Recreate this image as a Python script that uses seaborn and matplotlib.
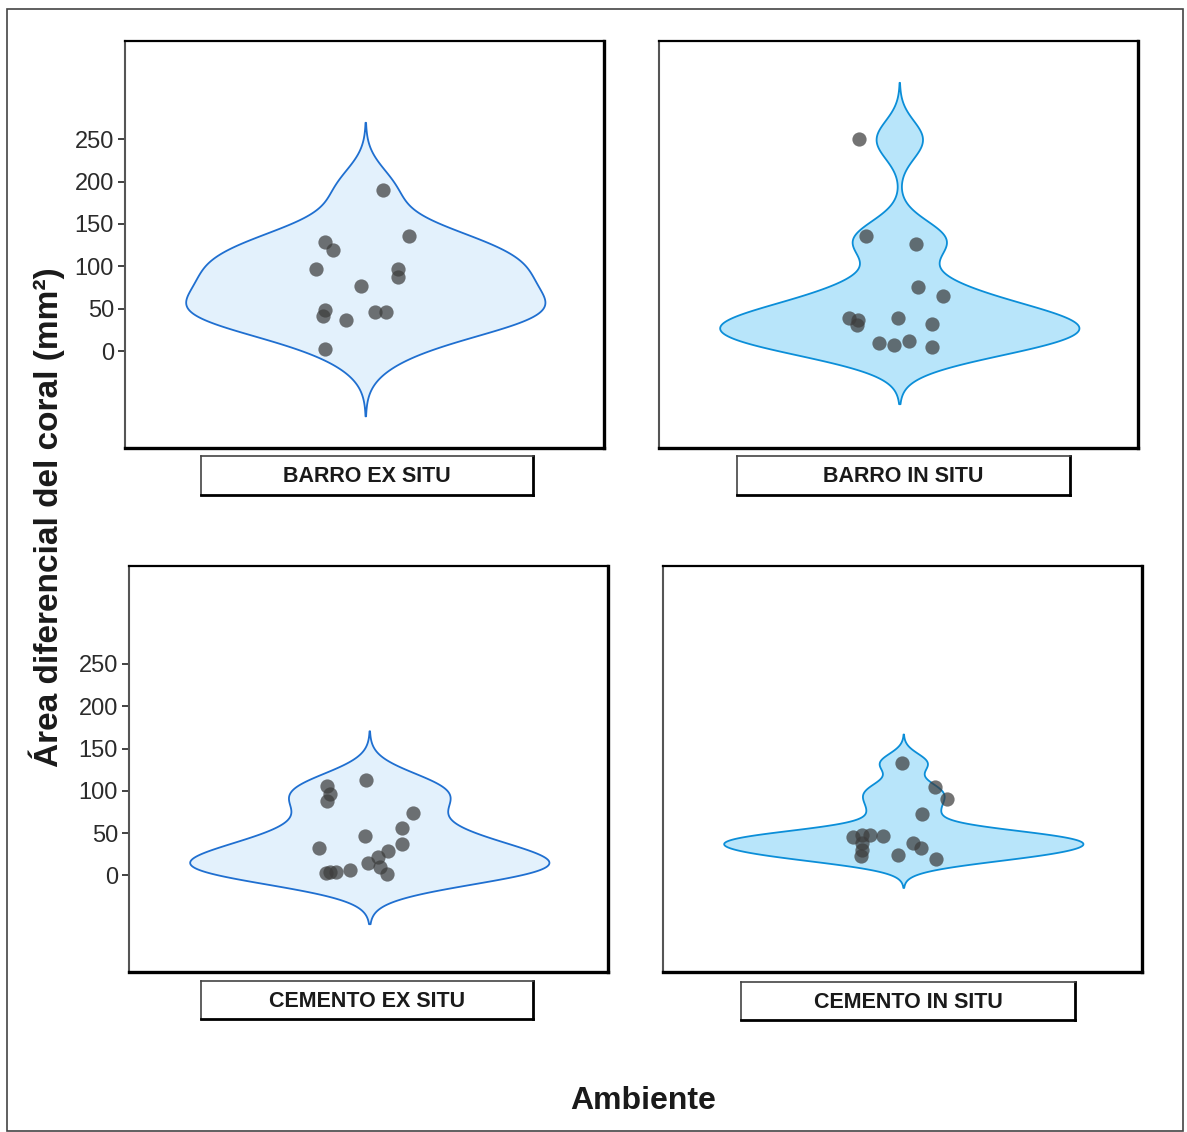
import numpy as np
import pandas as pd
import seaborn as sns
import matplotlib
matplotlib.use("Agg")
import matplotlib.pyplot as plt
from matplotlib.patches import Rectangle

# Coral area difference (mm²) per environment, with per-point horizontal jitter
panel_names = ["BARRO EX SITU", "BARRO IN SITU", "CEMENTO EX SITU", "CEMENTO IN SITU"]

barro_ex = [190.6, 135.6, 128.9, 119.0, 96.7, 97.5, 87.6, 76.6, 49.1, 41.6, 37.3, 46.8, 46.8, 3.1]
barro_ex_jit = [0.045, 0.110, -0.100, -0.081, -0.124, 0.082, 0.082, -0.011, -0.100, -0.105, -0.048, 0.025, 0.051, -0.100]

barro_in = [249.6, 135.6, 126.5, 76.3, 64.9, 39.7, 37.4, 30.7, 39.7, 32.6, 9.8, 7.1, 12.2, 5.5]
barro_in_jit = [-0.101, -0.083, 0.043, 0.048, 0.109, -0.126, -0.103, -0.106, -0.004, 0.081, -0.050, -0.014, 0.024, 0.081]

cemento_ex = [112.8, 105.3, 96.7, 87.6, 74.3, 56.2, 46.8, 37.7, 33.0, 29.1, 22.0, 15.0, 10.6, 6.3, 3.9, 3.5, 3.9, 1.2]
cemento_ex_jit = [-0.008, -0.106, -0.099, -0.106, 0.110, 0.082, -0.012, 0.082, -0.125, 0.048, 0.021, -0.003, 0.026, -0.049, -0.083, -0.108, -0.098, 0.044]

cemento_in = [133.3, 104.2, 90.0, 72.3, 45.2, 48.3, 48.3, 46.8, 38.5, 29.9, 23.6, 38.5, 33.0, 24.4, 19.7]
cemento_in_jit = [-0.003, 0.080, 0.109, 0.048, -0.126, -0.103, -0.083, -0.050, -0.103, -0.103, -0.106, 0.025, 0.044, -0.013, 0.081]

y_ticks = [0, 50, 100, 150, 200, 250]

values = [barro_ex, barro_in, cemento_ex, cemento_in]
jitters = [barro_ex_jit, barro_in_jit, cemento_ex_jit, cemento_in_jit]
fills = ["#E3F1FC", "#B8E5FA", "#E3F1FC", "#B8E5FA"]
edges = ["#1F6FD0", "#0B8ED8", "#1F6FD0", "#0B8ED8"]

W, H = 1187, 1132
sns.set_theme(style="white")
plt.rcParams["font.family"] = ["Liberation Sans", "DejaVu Sans"]

fig = plt.figure(figsize=(W / 100, H / 100), dpi=100)


def px_box(x0, y0, x1, y1):
    return [x0 / W, 1 - y1 / H, (x1 - x0) / W, (y1 - y0) / H]


# panel and strip rectangles in pixel coordinates
panel_px = [(125, 41, 604, 448), (659, 41, 1138, 448), (129, 566, 608, 972), (663, 566, 1142, 972)]
strip_px = [(201, 456, 533, 495), (737, 456, 1070, 495), (201, 981, 533, 1019), (741, 982, 1075, 1020)]


def nrd0(v):
    v = np.asarray(v, dtype=float)
    sd = v.std(ddof=1)
    q1, q3 = np.percentile(v, [25, 75])
    lo = min(sd, (q3 - q1) / 1.34)
    return 0.9 * lo * len(v) ** (-0.2)


for i in range(4):
    ax = fig.add_axes(px_box(*panel_px[i]))
    vals = np.asarray(values[i], dtype=float)
    df = pd.DataFrame({"area": vals, "jit": jitters[i]})
    bw_factor = nrd0(vals) / vals.std(ddof=1)
    sns.violinplot(data=df, y="area", ax=ax, color=fills[i], saturation=1,
                   linecolor=edges[i], linewidth=1.3, inner=None, cut=3,
                   bw_method=bw_factor, gridsize=512, width=0.9)
    sns.scatterplot(data=df, x="jit", y="area", ax=ax, color="#3d3d3d",
                    alpha=0.72, s=105, linewidth=0, zorder=5)
    ax.set_xlim(-0.602, 0.598)
    ax.set_ylim(-114, 365.6)
    ax.set_xticks([])
    ax.set_yticks(y_ticks)
    ax.set_xlabel("")
    ax.set_ylabel("")
    ax.tick_params(axis="y", left=True, length=5, width=1.3, color="#333333",
                   labelsize=17, labelcolor="#2b2b2b", pad=3)
    ax.spines["left"].set_color("#555555")
    ax.spines["left"].set_linewidth(1.5)
    ax.spines["top"].set_color("black")
    ax.spines["top"].set_linewidth(1.6)
    ax.spines["right"].set_color("black")
    ax.spines["right"].set_linewidth(2.4)
    ax.spines["bottom"].set_color("black")
    ax.spines["bottom"].set_linewidth(2.4)
    if i in (1, 3):
        ax.set_yticklabels([])
        ax.tick_params(axis="y", left=False)

    # facet strip label under the panel
    sax = fig.add_axes(px_box(*strip_px[i]))
    sax.set_xticks([])
    sax.set_yticks([])
    sax.set_facecolor("white")
    for side, lw, col in [("left", 1.2, "#444444"), ("top", 1.2, "#444444"),
                          ("right", 2.0, "black"), ("bottom", 2.0, "black")]:
        sax.spines[side].set_visible(True)
        sax.spines[side].set_linewidth(lw)
        sax.spines[side].set_color(col)
    sax.text(0.5, 0.47, panel_names[i], ha="center", va="center",
             fontsize=15.5, fontweight="bold", color="#1a1a1a",
             transform=sax.transAxes)

# outer frame
fig.patches.append(Rectangle((7 / W, 1 - 1131 / H), (1183 - 7) / W, (1131 - 9) / H,
                             transform=fig.transFigure, fill=False,
                             edgecolor="#444444", linewidth=1.2))

fig.text(47 / W, 1 - 517 / H, "Área diferencial del coral (mm²)", rotation=90,
         ha="center", va="center", fontsize=24, fontweight="bold", color="#1a1a1a")
fig.text(643 / W, 1 - 1101 / H, "Ambiente", ha="center", va="center",
         fontsize=23, fontweight="bold", color="#1a1a1a")

fig.savefig("out.png", dpi=100)
